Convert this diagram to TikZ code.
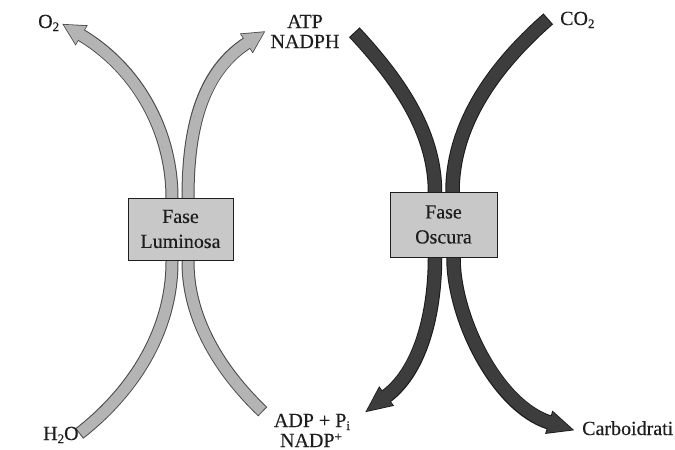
\documentclass[tikz,border=0pt]{standalone}
\usepackage{fontspec}
\setmainfont{Liberation Serif}[FakeBold=0.3]

\definecolor{lightfill}{HTML}{B4B4B4}
\definecolor{lightedge}{HTML}{4A4A4A}
\definecolor{darkfill}{HTML}{3D3D3D}
\definecolor{darkedge}{HTML}{1A1A1A}
\definecolor{boxfill}{HTML}{C8C8C8}
\definecolor{ink}{HTML}{1E1E1E}

\tikzset{
  lbl/.style={font=\fontsize{20}{25}\selectfont, text=ink, inner sep=0pt},
  phasebox/.style={draw=ink, line width=1pt, fill=boxfill, align=center,
    font=\fontsize{20}{25}\selectfont, text=ink, inner sep=0pt},
  lightedgeline/.style={draw=lightedge, line width=13pt},
  lightfillline/.style={draw=lightfill, line width=11pt},
  darkedgeline/.style={draw=darkedge, line width=14.5pt},
  darkfillline/.style={draw=darkfill, line width=12.5pt},
}

% small raised / lowered indices
\newcommand\lowidx[1]{\raisebox{-3pt}{\fontsize{13}{13}\selectfont #1}}
\newcommand\highidx[1]{\raisebox{6pt}{\fontsize{13}{13}\selectfont #1}}

% curved strips of the two phases
\newcommand\lightLeftPath[1]{\draw[#1] (h2oend) .. controls (134,391) and (172,330) .. (172,262) -- (172,198) .. controls (172,132) and (138,69) .. (o2base);}
\newcommand\lightRightPath[1]{\draw[#1] (adpend) .. controls (220.6,371.3) and (188,319.5) .. (188,262) -- (188,198) .. controls (188,139) and (197.4,74.9) .. (atpbase);}
\newcommand\darkLeftPath[1]{\draw[#1] (nadphend) .. controls (396.8,77.9) and (435,130.5) .. (435,192) -- (435,258) .. controls (435,305) and (424,368) .. (adpbase);}
\newcommand\darkRightPath[1]{\draw[#1] (co2end) .. controls (495.7,65) and (452.5,123) .. (452.5,192) -- (453.5,258) .. controls (453.5,318) and (497,406) .. (carbbase);}
% triangular arrow heads
\newcommand\headShape[4]{\draw[#1] (#2) -- (#3) -- (#4) -- cycle;}

\begin{document}
\begin{tikzpicture}[x=1pt,y=-1pt]
\fill[white] (0,0) rectangle (675,450);
\useasboundingbox (0,0) rectangle (675,450);

% strip ends and arrow head geometry
\coordinate (h2oend) at (80,433);
\coordinate (o2base) at (81,35);
\coordinate (o2tip) at (63.8,24.8);
\coordinate (o2b1) at (86.4,26.0);
\coordinate (o2b2) at (75.6,44.0);

\coordinate (adpend) at (262,411);
\coordinate (atpbase) at (247,43);
\coordinate (atptip) at (263.8,32.2);
\coordinate (atpb1) at (252.7,51.8);
\coordinate (atpb2) at (241.3,34.2);

\coordinate (nadphend) at (355,33);
\coordinate (adpbase) at (386,396.5);
\coordinate (adptip) at (366.9,411.0);
\coordinate (adpb1) at (392.7,405.3);
\coordinate (adpb2) at (379.3,387.7);

\coordinate (co2end) at (547.5,19.5);
\coordinate (carbbase) at (549.5,422.5);
\coordinate (carbtip) at (572.4,429.7);
\coordinate (carbb1) at (546.2,433.0);
\coordinate (carbb2) at (552.8,412.0);

% light phase: outlines, then fills
\lightLeftPath{lightedgeline, shorten <=-1pt}
\lightRightPath{lightedgeline, shorten <=-1pt}
\headShape{draw=lightedge, fill=lightedge, line width=1.6pt}{o2tip}{o2b1}{o2b2}
\headShape{draw=lightedge, fill=lightedge, line width=1.6pt}{atptip}{atpb1}{atpb2}
\lightLeftPath{lightfillline, shorten >=-1.5pt}
\lightRightPath{lightfillline, shorten >=-1.5pt}
\headShape{fill=lightfill, draw=none}{o2tip}{o2b1}{o2b2}
\headShape{fill=lightfill, draw=none}{atptip}{atpb1}{atpb2}

% dark phase: outlines, then fills
\darkLeftPath{darkedgeline, shorten <=-1pt}
\darkRightPath{darkedgeline, shorten <=-1pt}
\headShape{draw=darkedge, fill=darkedge, line width=1.6pt}{adptip}{adpb1}{adpb2}
\headShape{draw=darkedge, fill=darkedge, line width=1.6pt}{carbtip}{carbb1}{carbb2}
\darkLeftPath{darkfillline, shorten >=-1.5pt}
\darkRightPath{darkfillline, shorten >=-1.5pt}
\headShape{fill=darkfill, draw=none}{adptip}{adpb1}{adpb2}
\headShape{fill=darkfill, draw=none}{carbtip}{carbb1}{carbb2}

% phase boxes
\node[phasebox, minimum width=105pt, minimum height=62pt] (luminosa) at (180.5,229) {Fase\\Luminosa};
\node[phasebox, minimum width=107pt, minimum height=65pt] (oscura) at (443.5,224.5) {Fase\\Oscura};

% substances
\node[lbl, anchor=base west] (o2) at (38,28) {O\lowidx{2}};
\node[lbl, anchor=base] (atp) at (305,28) {ATP};
\node[lbl, anchor=base] (nadph) at (305,48) {NADPH};
\node[lbl, anchor=base west] (co2) at (560,25) {CO\lowidx{2}};
\node[lbl, anchor=base west] (h2o) at (43,440) {H\lowidx{2}O};
\node[lbl, anchor=base] (adp) at (312,427) {ADP + P\lowidx{i}};
\node[lbl, anchor=base] (nadp) at (311,447) {NADP\highidx{+}};
\node[lbl, anchor=base west] (carb) at (582,435) {Carboidrati};
\end{tikzpicture}
\end{document}
